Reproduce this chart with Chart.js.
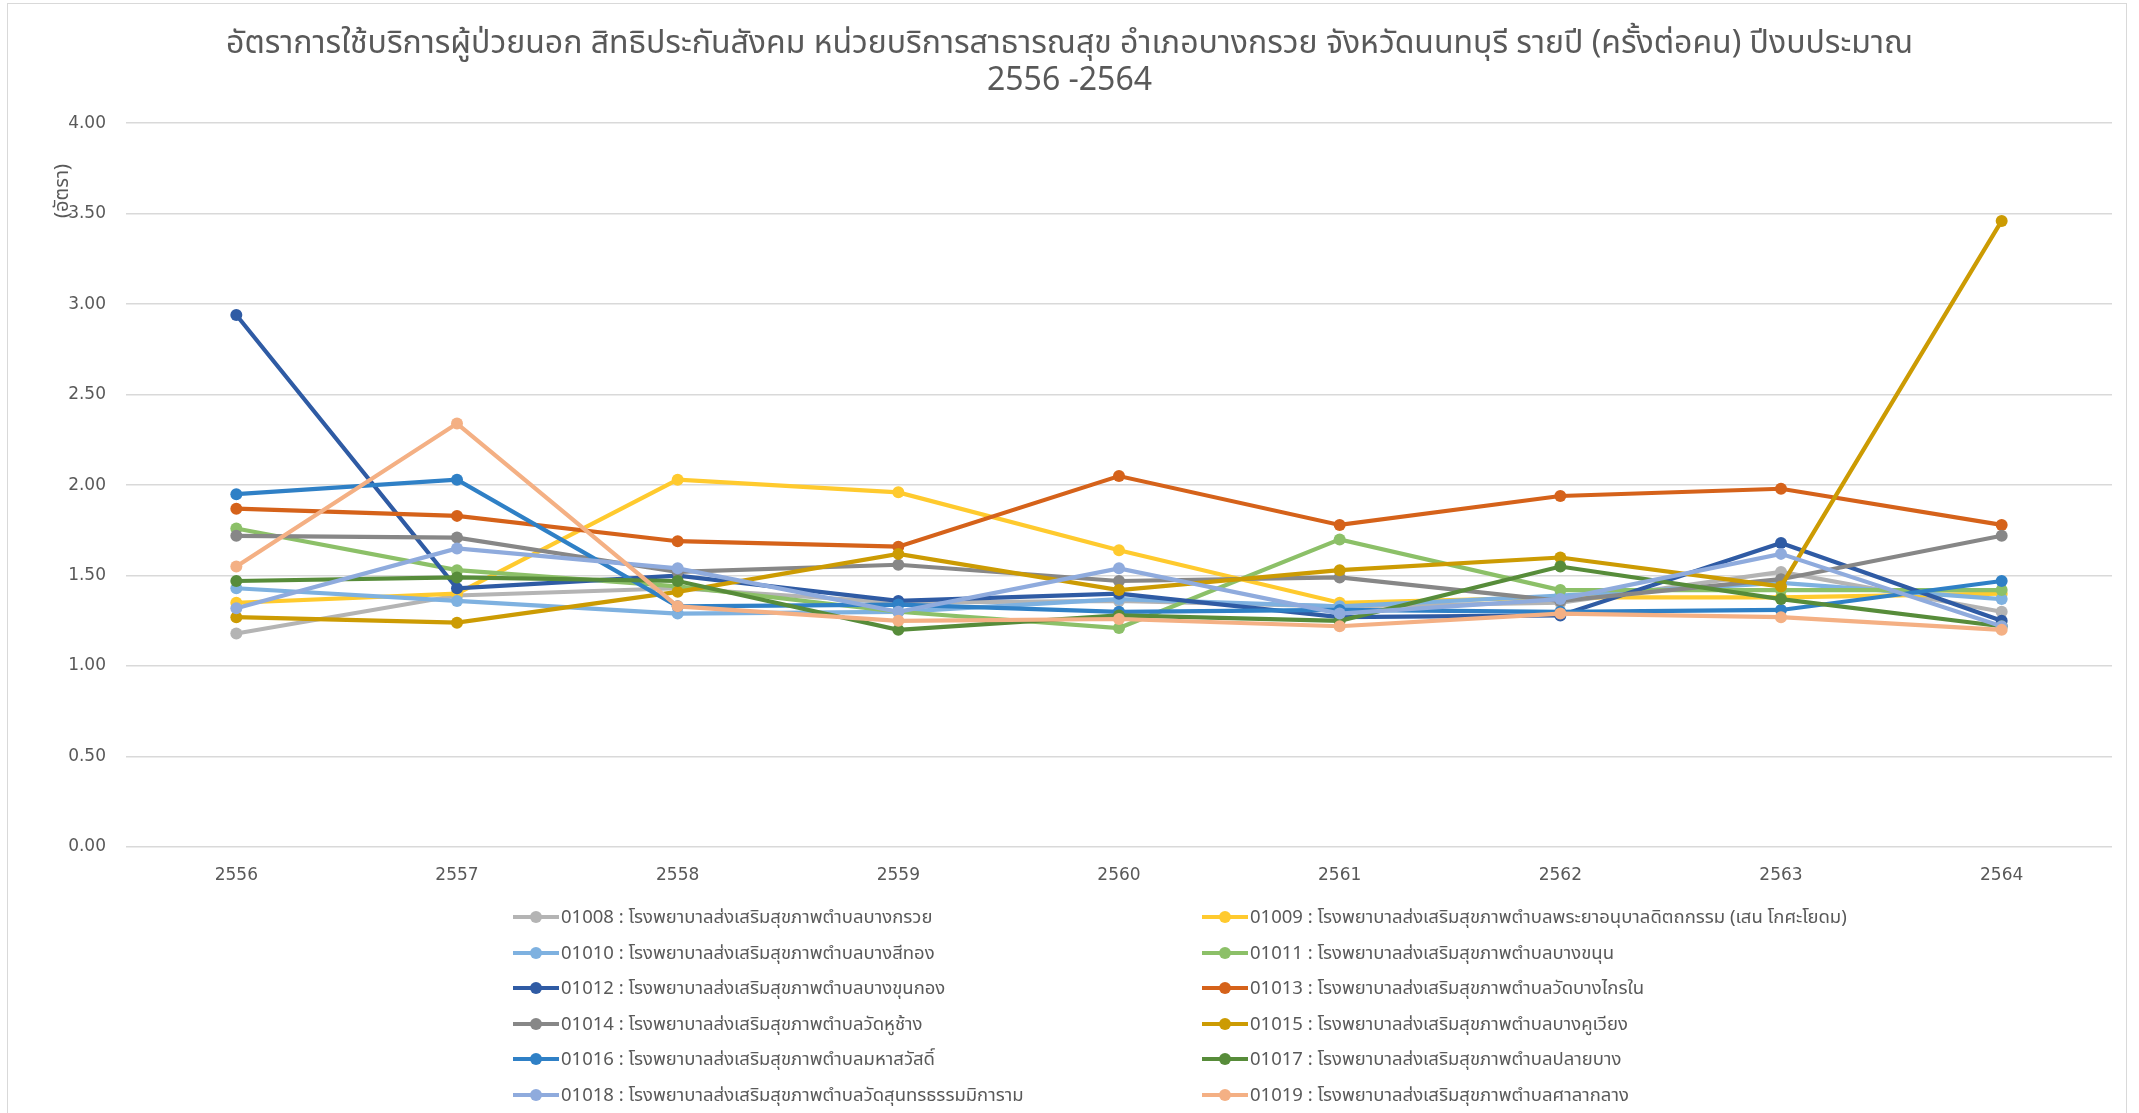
<!DOCTYPE html>
<html>
<head>
<meta charset="utf-8">
<script src="https://cdn.jsdelivr.net/npm/chart.js@4.4.0/dist/chart.umd.min.js"></script>
<style>
  html, body { margin: 0; padding: 0; background: #fff; }
  body { width: 2139px; height: 1113px; position: relative; overflow: hidden; font-family: "Noto Sans Thai", "Tahoma", "Noto Sans", "DejaVu Sans", sans-serif; }
  #frame { position: absolute; left: 7px; top: 3px; width: 2120px; height: 1200px; border: 1px solid #D9D9D9; box-sizing: border-box; }
  #c { position: absolute; left: 0; top: 0; }
  #ytitle { position: absolute; left: 62px; top: 191px; transform: translate(-50%, -50%) rotate(-90deg); color: #595959; font-size: 20px; white-space: nowrap; }
  #legend { position: absolute; left: 0; top: 0; width: 2139px; height: 1113px; pointer-events: none; }
  .li { position: absolute; display: flex; align-items: center; color: #595959; font-size: 18.5px; white-space: nowrap; height: 30px; transform: translateY(-50%); }
  .mk { position: relative; width: 46px; height: 4px; margin-right: 2px; }
  .mk i { position: absolute; left: 17px; top: -4px; width: 12px; height: 12px; border-radius: 50%; }
</style>
</head>
<body>
<div id="frame"></div>
<canvas id="c" width="2139" height="1113"></canvas>
<div id="ytitle">(อัตรา)</div>
<div id="legend"></div>
<script>
const titleLines = ['อัตราการใช้บริการผู้ป่วยนอก สิทธิประกันสังคม หน่วยบริการสาธารณสุข อำเภอบางกรวย จังหวัดนนทบุรี รายปี (ครั้งต่อคน) ปีงบประมาณ', '2556 -2564'];
const yAxisTitle = '(อัตรา)';
const categories = ['2556', '2557', '2558', '2559', '2560', '2561', '2562', '2563', '2564'];

const seriesNames = [
  '01008 : โรงพยาบาลส่งเสริมสุขภาพตำบลบางกรวย',
  '01009 : โรงพยาบาลส่งเสริมสุขภาพตำบลพระยาอนุบาลดิตถกรรม (เสน โกศะโยดม)',
  '01010 : โรงพยาบาลส่งเสริมสุขภาพตำบลบางสีทอง',
  '01011 : โรงพยาบาลส่งเสริมสุขภาพตำบลบางขนุน',
  '01012 : โรงพยาบาลส่งเสริมสุขภาพตำบลบางขุนกอง',
  '01013 : โรงพยาบาลส่งเสริมสุขภาพตำบลวัดบางไกรใน',
  '01014 : โรงพยาบาลส่งเสริมสุขภาพตำบลวัดหูช้าง',
  '01015 : โรงพยาบาลส่งเสริมสุขภาพตำบลบางคูเวียง',
  '01016 : โรงพยาบาลส่งเสริมสุขภาพตำบลมหาสวัสดิ์',
  '01017 : โรงพยาบาลส่งเสริมสุขภาพตำบลปลายบาง',
  '01018 : โรงพยาบาลส่งเสริมสุขภาพตำบลวัดสุนทรธรรมมิการาม',
  '01019 : โรงพยาบาลส่งเสริมสุขภาพตำบลศาลากลาง'
];

const s01008 = [1.18, 1.39, 1.43, 1.35, 1.36, 1.33, 1.35, 1.52, 1.30];
const s01009 = [1.35, 1.40, 2.03, 1.96, 1.64, 1.35, 1.38, 1.38, 1.40];
const s01010 = [1.43, 1.36, 1.29, 1.30, 1.37, 1.33, 1.39, 1.46, 1.37];
const s01011 = [1.76, 1.53, 1.44, 1.30, 1.21, 1.70, 1.42, 1.42, 1.42];
const s01012 = [2.94, 1.43, 1.50, 1.36, 1.40, 1.27, 1.28, 1.68, 1.25];
const s01013 = [1.87, 1.83, 1.69, 1.66, 2.05, 1.78, 1.94, 1.98, 1.78];
const s01014 = [1.72, 1.71, 1.52, 1.56, 1.47, 1.49, 1.36, 1.48, 1.72];
const s01015 = [1.27, 1.24, 1.41, 1.62, 1.42, 1.53, 1.60, 1.44, 3.46];
const s01016 = [1.95, 2.03, 1.33, 1.34, 1.30, 1.31, 1.30, 1.31, 1.47];
const s01017 = [1.47, 1.49, 1.47, 1.20, 1.28, 1.25, 1.55, 1.37, 1.22];
const s01018 = [1.32, 1.65, 1.54, 1.30, 1.54, 1.29, 1.37, 1.62, 1.22];
const s01019 = [1.55, 2.34, 1.33, 1.25, 1.26, 1.22, 1.29, 1.27, 1.20];

const seriesValues = [s01008, s01009, s01010, s01011, s01012, s01013, s01014, s01015, s01016, s01017, s01018, s01019];
const seriesColors = ['#B4B4B4', '#FFCA2E', '#7EB1E0', '#8CC068', '#2F5BA4', '#D5621A', '#878787', '#CC9B03', '#2F80C6', '#578C3A', '#8FABDD', '#F4B084'];

const yMin = 0, yMax = 4, yStep = 0.5;

const datasets = seriesNames.map((name, i) => ({
  label: name,
  data: seriesValues[i],
  borderColor: seriesColors[i],
  backgroundColor: seriesColors[i],
  borderWidth: 4.2,
  pointRadius: 6,
  pointBorderWidth: 0,
  pointHoverRadius: 6,
  tension: 0,
  order: seriesNames.length - i
}));

const tickFont = { family: '"DejaVu Sans", sans-serif', size: 17 };

new Chart(document.getElementById('c'), {
  type: 'line',
  data: { labels: categories, datasets },
  options: {
    responsive: false,
    animation: false,
    layout: { padding: { left: 0, right: 0, top: 0, bottom: 0 } },
    plugins: {
      legend: { display: false },
      tooltip: { enabled: false },
      title: {
        display: true,
        text: titleLines,
        color: '#595959',
        font: { family: '"Noto Sans Thai", "Tahoma", "Noto Sans", "DejaVu Sans", sans-serif', size: 32, weight: 'normal', lineHeight: 1.16 },
        padding: { top: 28, bottom: 21 }
      }
    },
    scales: {
      x: {
        offset: true,
        grid: { display: false, drawTicks: false },
        border: { display: false },
        ticks: { color: '#595959', font: tickFont, padding: 18, maxRotation: 0 },
        afterFit: (s) => { s.height = 266; }
      },
      y: {
        min: yMin, max: yMax,
        ticks: { stepSize: yStep, color: '#595959', font: tickFont, padding: 20, callback: v => Number(v).toFixed(2) },
        grid: { color: '#D9D9D9', lineWidth: 1.5, drawTicks: false },
        border: { display: false },
        afterFit: (s) => { s.width = 126; }
      },
      yRight: {
        position: 'right',
        display: true,
        grid: { display: false, drawTicks: false },
        border: { display: false },
        ticks: { display: false },
        afterFit: (s) => { s.width = 27; }
      }
    }
  }
});

// HTML legend, two columns
const legend = document.getElementById('legend');
const colX = [513, 1202];
seriesNames.forEach((name, i) => {
  const row = Math.floor(i / 2), col = i % 2;
  const el = document.createElement('div');
  el.className = 'li';
  el.style.left = colX[col] + 'px';
  el.style.top = (917 + row * 35.5) + 'px';
  const mk = document.createElement('span');
  mk.className = 'mk';
  mk.style.background = seriesColors[i];
  const dot = document.createElement('i');
  dot.style.background = seriesColors[i];
  mk.appendChild(dot);
  const tx = document.createElement('span');
  tx.textContent = name;
  el.appendChild(mk);
  el.appendChild(tx);
  legend.appendChild(el);
});
document.getElementById('ytitle').textContent = yAxisTitle;
</script>
</body>
</html>
